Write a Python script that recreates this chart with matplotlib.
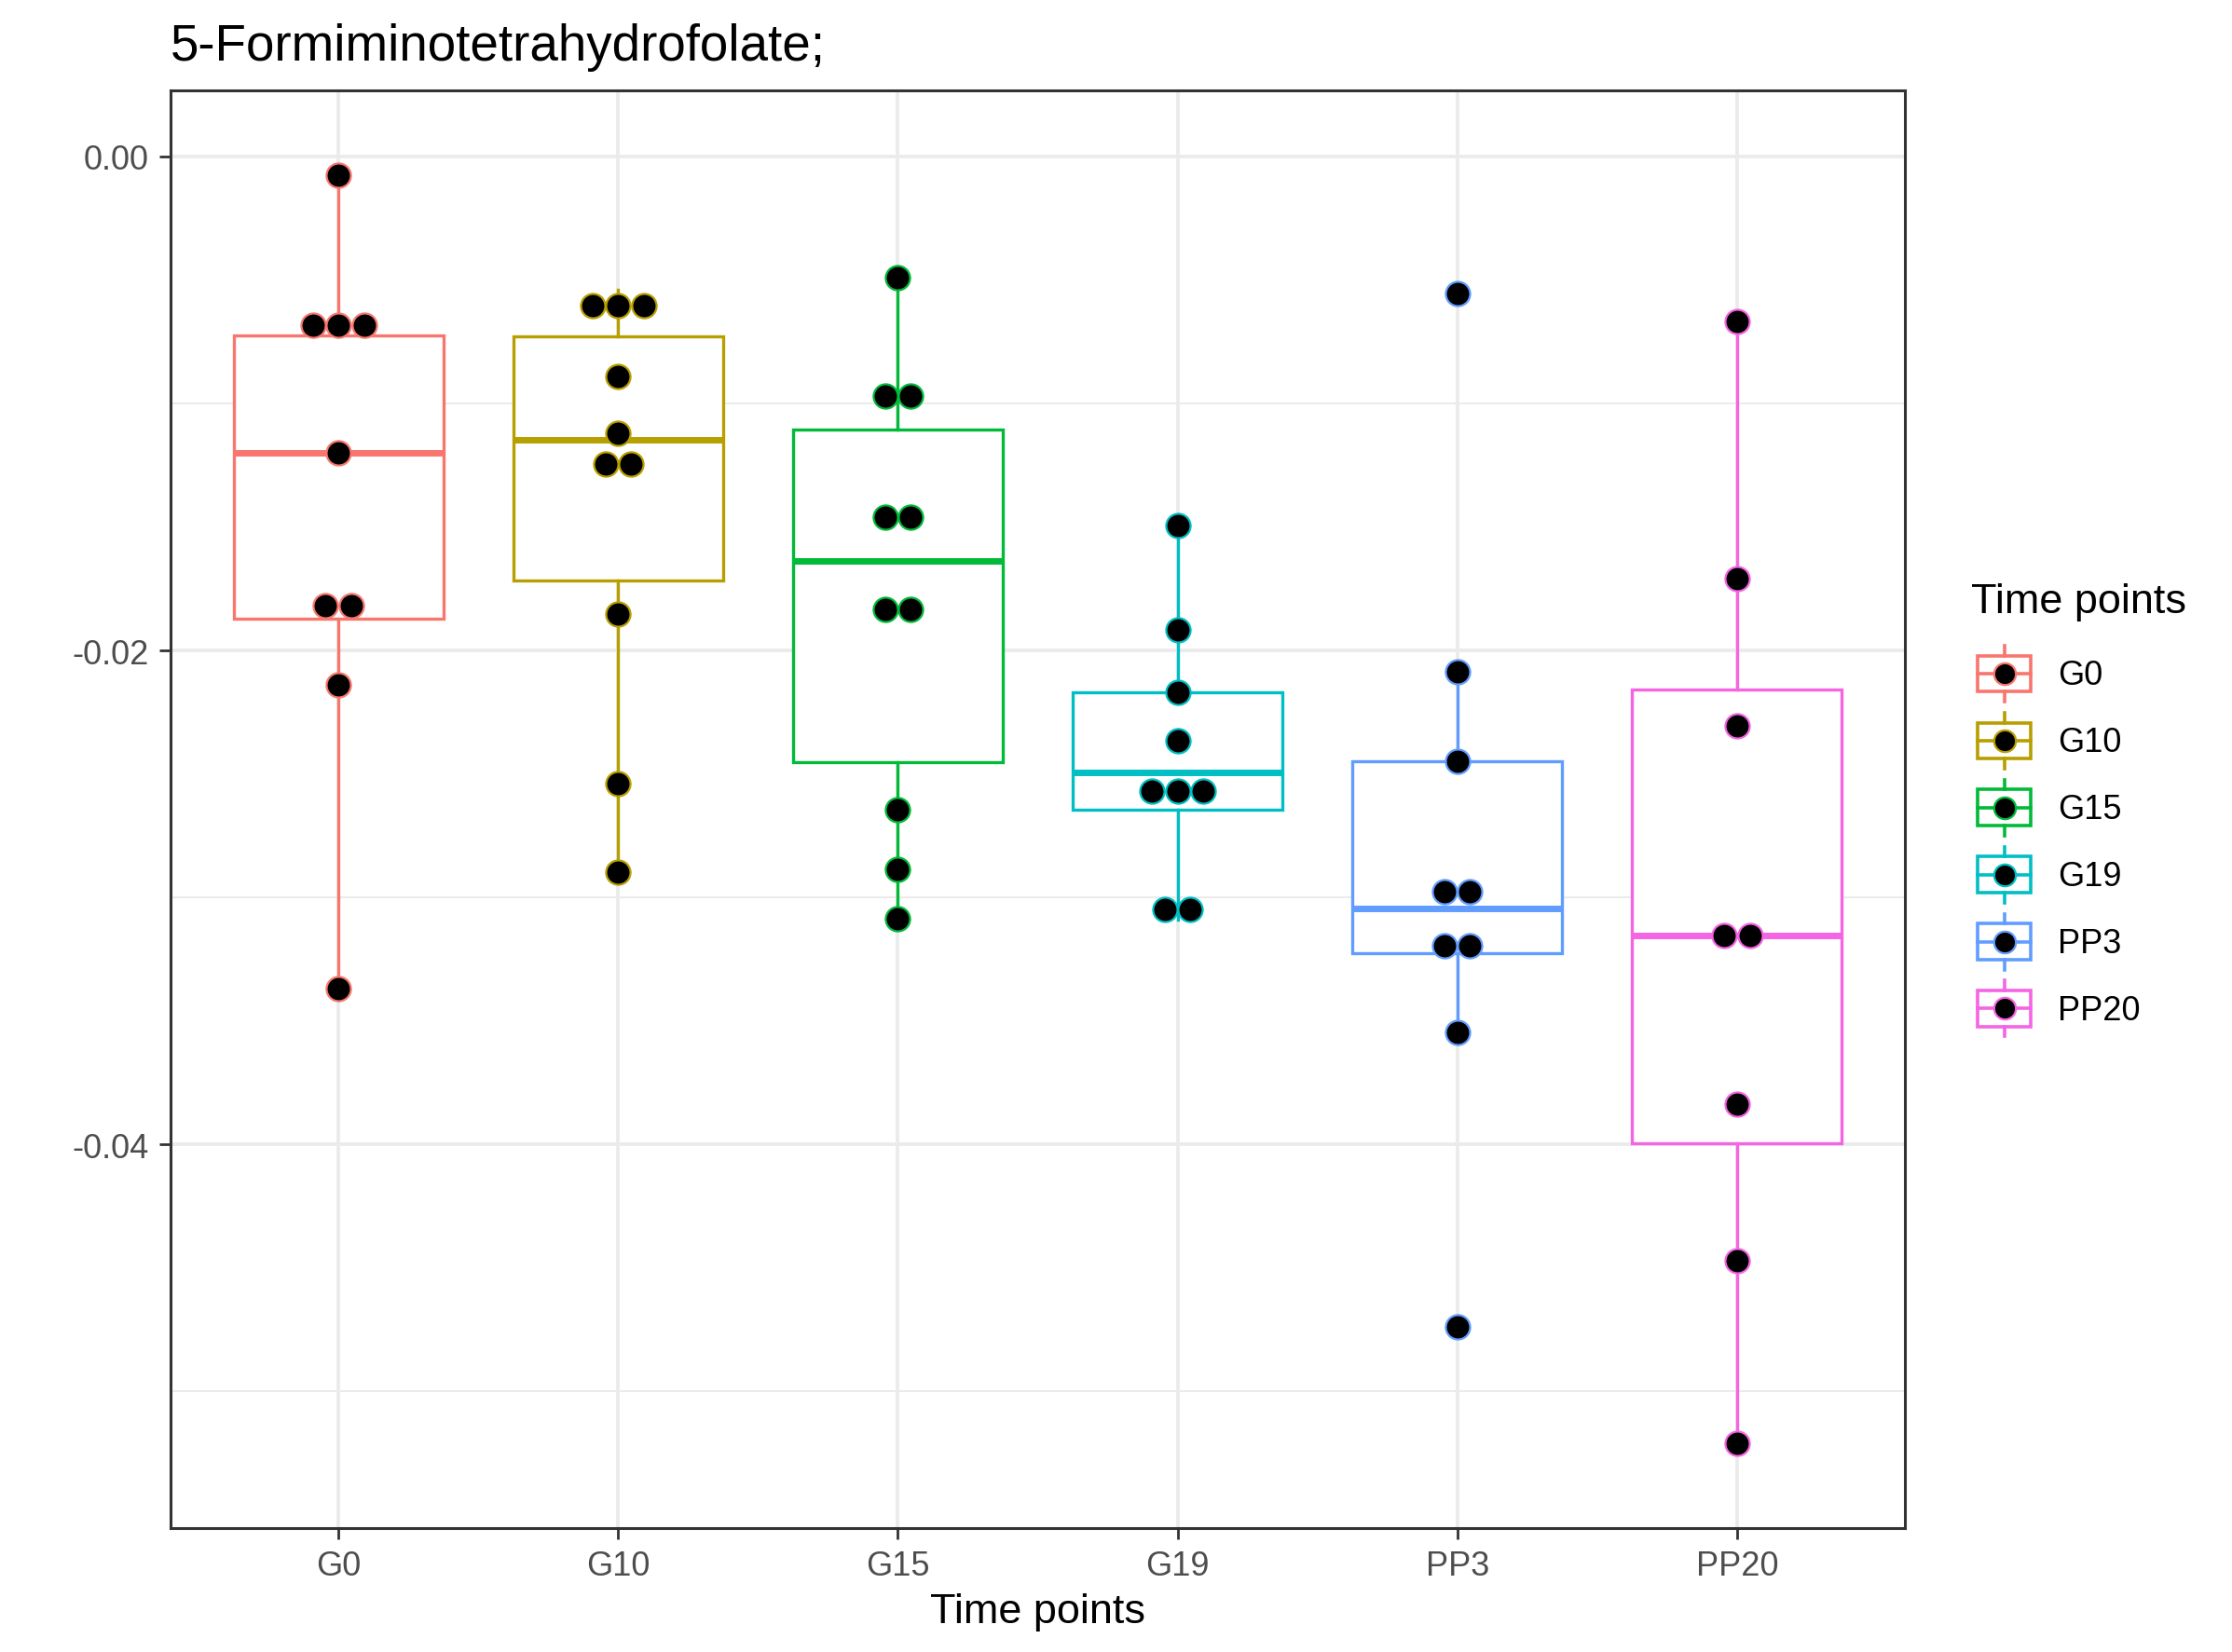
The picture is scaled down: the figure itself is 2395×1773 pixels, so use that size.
import numpy as np
import matplotlib
matplotlib.use("Agg")
import matplotlib.pyplot as plt
from matplotlib.patches import Patch, Rectangle
from matplotlib.lines import Line2D
from matplotlib.legend_handler import HandlerBase
from matplotlib.ticker import FixedLocator, FormatStrFormatter

plt.rcParams['font.family'] = ['Liberation Sans', 'DejaVu Sans']
plt.rcParams['axes.unicode_minus'] = False

title = '5-Formiminotetrahydrofolate;'
groups = ['G0', 'G10', 'G15', 'G19', 'PP3', 'PP20']
colors = ['#F8766D', '#B79F00', '#00BA38', '#00BFC4', '#619CFF', '#F564E3']

# values (one list per time point)
g0 = [-0.03368, -0.02138, -0.01872, -0.01764, -0.01199, -0.00744, -0.00725, -0.00620, -0.00077]
g10 = [-0.02897, -0.02541, -0.01853, -0.01314, -0.01174, -0.01122, -0.00890, -0.00673, -0.00600, -0.00538]
g15 = [-0.03085, -0.02888, -0.02646, -0.01870, -0.01798, -0.01478, -0.01440, -0.00996, -0.00944, -0.00492]
g19 = [-0.03090, -0.03010, -0.02644, -0.02570, -0.02495, -0.02366, -0.02168, -0.01916, -0.01494]
pp3 = [-0.04737, -0.03547, -0.03226, -0.03162, -0.03046, -0.02910, -0.02447, -0.02087, -0.00553]
pp20 = [-0.05209, -0.04469, -0.03836, -0.03180, -0.03130, -0.02306, -0.01711, -0.00668]
values = [g0, g10, g15, g19, pp3, pp20]

BINWIDTH = 0.0016   # dot-density bin width (y units)
DOT_DX = 0.0916     # horizontal step between stacked dots (x units)


def dot_bins(vals, binwidth):
    """Wilkinson dot-density binning: returns (center, count) per bin."""
    v = np.sort(np.asarray(vals))
    out = []
    i = 0
    while i < len(v):
        j = i
        while j + 1 < len(v) and v[j + 1] < v[i] + binwidth:
            j += 1
        out.append(((v[i] + v[j]) / 2, j - i + 1))
        i = j + 1
    return out


class BoxDotHandler(HandlerBase):
    def create_artists(self, legend, orig_handle, xdescent, ydescent,
                       width, height, fontsize, trans):
        c = orig_handle.get_edgecolor()
        box_w = 1.58 * fontsize
        x0, y0 = -xdescent + (width - box_w), -ydescent
        xm, ym = x0 + box_w / 2, y0 + height / 2
        lw = 1.3
        rect = Rectangle((x0, y0 + 0.18 * height), box_w, 0.64 * height,
                         facecolor='white', edgecolor=c, lw=lw, transform=trans)
        wt = Line2D([xm, xm], [y0 + 0.82 * height, y0 + height], color=c, lw=lw, transform=trans)
        wb = Line2D([xm, xm], [y0, y0 + 0.18 * height], color=c, lw=lw, transform=trans)
        med = Line2D([x0, x0 + box_w], [ym, ym], color=c, lw=lw, transform=trans)
        dot = Line2D([xm], [ym], marker='o', ms=8.4, mfc='black', mec=c, mew=0.8,
                     lw=0, transform=trans)
        return [rect, wt, wb, med, dot]


fig = plt.figure(figsize=(2395 / 200, 1774 / 200), dpi=200)
ax = fig.add_axes([183 / 2395, 1 - 1641 / 1774, (2044 - 183) / 2395, (1641 - 98) / 1774])

pos = np.arange(len(groups))
bp = ax.boxplot(values, positions=pos, widths=0.75, showfliers=False, showcaps=False,
                patch_artist=True, zorder=2)
for k, c in enumerate(colors):
    bp['boxes'][k].set(facecolor='white', edgecolor=c, linewidth=1.2)
    bp['medians'][k].set(color=c, linewidth=2.5, solid_capstyle='butt')
    for w in bp['whiskers'][2 * k:2 * k + 2]:
        w.set(color=c, linewidth=1.2)

for k, (vals, c) in enumerate(zip(values, colors)):
    for center, n in dot_bins(vals, BINWIDTH):
        xs = pos[k] + (np.arange(n) - (n - 1) / 2) * DOT_DX
        ax.plot(xs, [center] * n, 'o', ms=9.4, mfc='black', mec=c, mew=0.8,
                lw=0, zorder=3)

# y range like ggplot: dot extent plus 5% expansion
lo = min(min(v) for v in values) - BINWIDTH / 2
hi = max(max(v) for v in values) + BINWIDTH / 2
pad = 0.05 * (hi - lo)
ax.set_ylim(lo - pad, hi + pad)
ax.set_xlim(-0.6, len(groups) - 0.4)

ax.set_xticks(pos)
ax.set_xticklabels(groups)
ax.yaxis.set_major_locator(FixedLocator([0.0, -0.02, -0.04]))
ax.yaxis.set_minor_locator(FixedLocator([-0.01, -0.03, -0.05]))
ax.yaxis.set_major_formatter(FormatStrFormatter('%.2f'))
ax.tick_params(axis='both', which='major', length=4.3, width=1.0, color='#333333',
               labelsize=13, labelcolor='#4D4D4D', pad=4)
ax.tick_params(axis='y', which='minor', length=0)

ax.set_axisbelow(True)
ax.grid(True, which='major', color='#EBEBEB', lw=1.4)
ax.grid(True, which='minor', axis='y', color='#EBEBEB', lw=0.7)
for s in ax.spines.values():
    s.set_color('#333333')
    s.set_linewidth(1.1)

ax.set_xlabel('Time points', fontsize=16.2, labelpad=4)
ax.set_title(title, loc='left', fontsize=19.7, pad=12)

handles = [Patch(edgecolor=c, facecolor='white') for c in colors]
leg = ax.legend(handles, groups, title='Time points', loc='center left',
                bbox_to_anchor=(1.038, 0.5), frameon=False,
                handler_map={Patch: BoxDotHandler()}, fontsize=13, title_fontsize=16.2,
                handlelength=1.79, handleheight=2.18, labelspacing=0.33,
                handletextpad=0.8, borderpad=0, borderaxespad=0, alignment='left')
leg._legend_box.sep = 9.8  # wider gap under the legend title

fig.savefig('out.png', dpi=200)
